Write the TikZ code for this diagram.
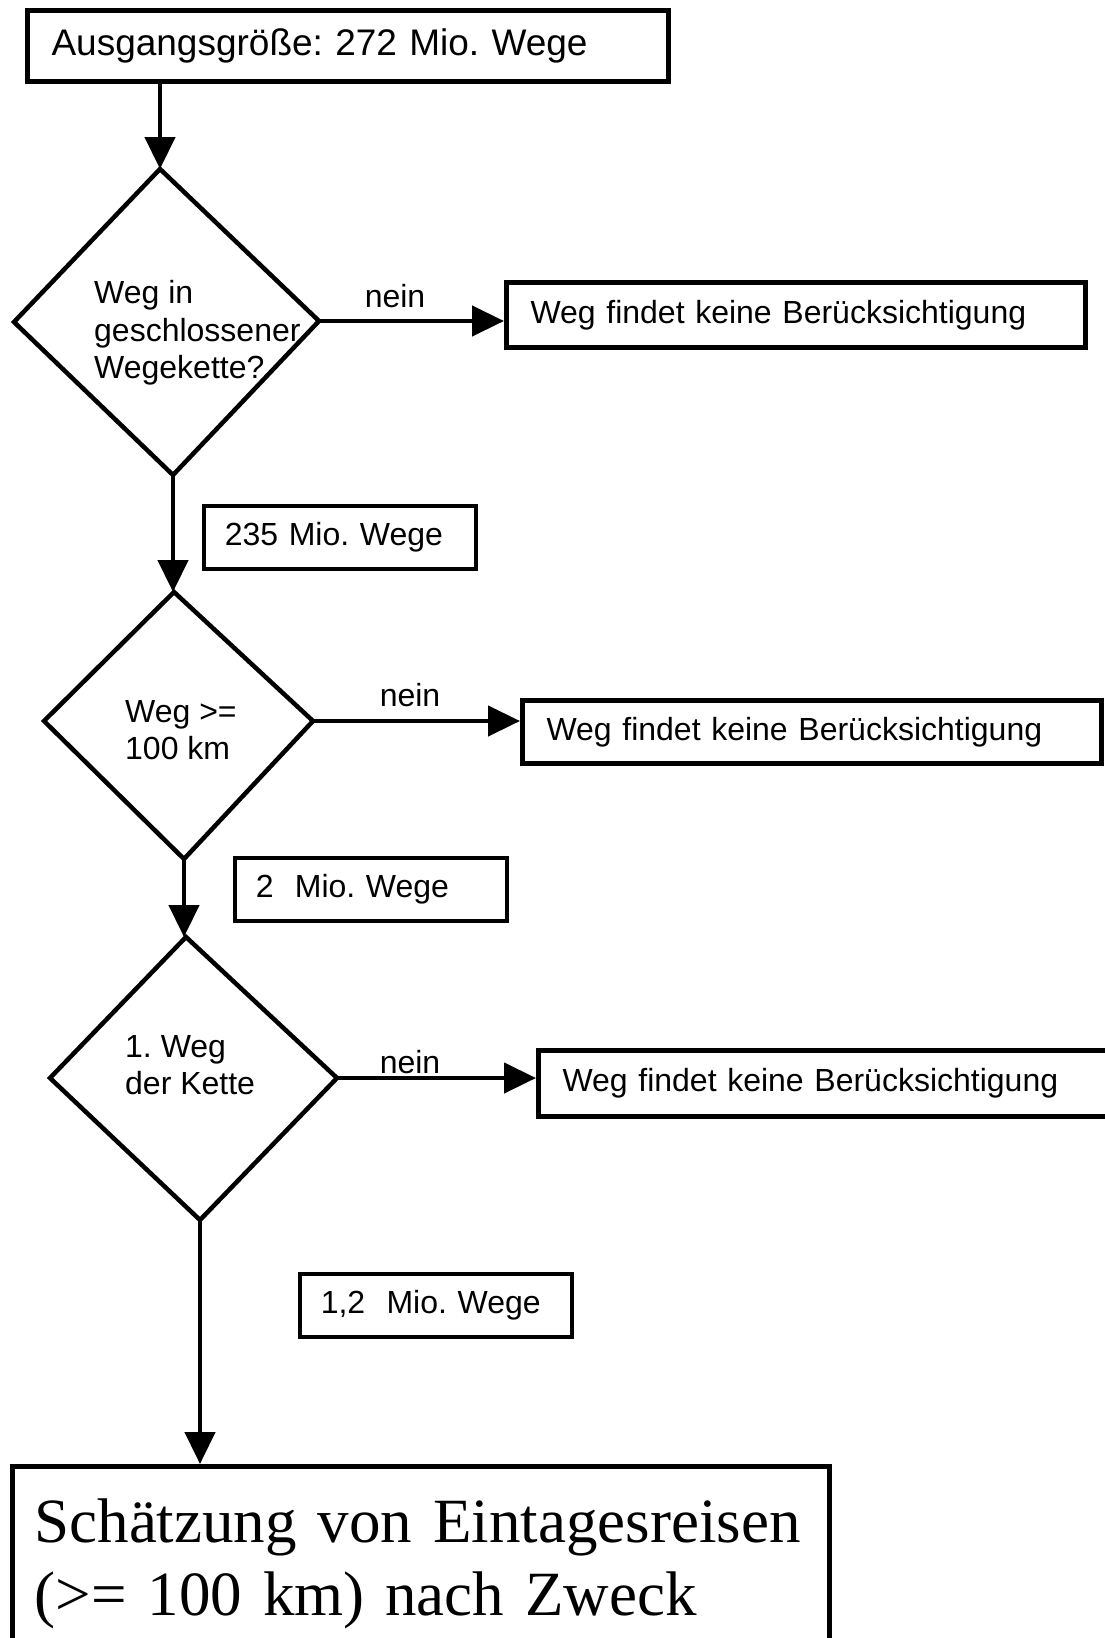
\documentclass[tikz,border=0pt]{standalone}
\usepackage{fontspec}
\setmainfont{Liberation Sans}
\newfontfamily\seriffont{Liberation Serif}
\usetikzlibrary{arrows.meta}
\frenchspacing

\tikzset{
  box/.style={draw,line width=5pt,anchor=north west,align=left,inner xsep=24pt,inner ysep=0pt},
  countbox/.style={draw,line width=3.5pt,anchor=north west,align=left,inner xsep=21pt,inner ysep=0pt,text width=230pt,minimum height=63pt},
  question/.style={anchor=west,align=left,inner sep=0pt},
  flow/.style={line width=4.5pt,-{Triangle[length=32pt,width=30pt]}}
}

\begin{document}
\begin{tikzpicture}[x=1pt,y=-1pt,font=\fontsize{32}{37.6}\selectfont]
  \useasboundingbox (0,0) rectangle (1105,1638);
  \clip (0,0) rectangle (1105,1638);
  \coordinate (T1) at (160,169); \coordinate (R1) at (319,321); \coordinate (B1) at (173,475); \coordinate (L1) at (14,322);
  \coordinate (T2) at (174,592); \coordinate (R2) at (313,721); \coordinate (B2) at (184,859); \coordinate (L2) at (44,721);
  \coordinate (T3) at (186,937); \coordinate (R3) at (337,1078); \coordinate (B3) at (200,1220); \coordinate (L3) at (50,1078);
  \node[box,text width=593pt,minimum height=71pt,font=\fontsize{37}{44}\selectfont] (start) at (25,8) {Ausgangsgröße: 272 Mio. Wege};
  \node[box,text width=531pt,minimum height=65pt] (skip1) at (504,280) {Weg findet keine Berücksichtigung};
  \node[box,text width=531pt,minimum height=63pt] (skip2) at (520,698) {Weg findet keine Berücksichtigung};
  \node[box,text width=531pt,minimum height=66pt] (skip3) at (536,1048) {Weg findet keine Berücksichtigung};
  \node[countbox] (n1) at (202,504) {235 Mio. Wege};
  \node[countbox] (n2) at (233,856) {2\ \ Mio. Wege};
  \node[countbox] (n3) at (298,1272) {1,2\ \ Mio. Wege};
  \node[box,text width=773pt,inner xsep=22pt,minimum height=195pt,font=\seriffont\fontsize{63}{73}\selectfont] (result) at (10,1464) {\mbox{Schätzung von Eintagesreisen}\\\mbox{(>= 100 km) nach Zweck}};
  \foreach \i in {1,2,3}\draw[line width=4.5pt] (T\i)--(R\i)--(B\i)--(L\i)--cycle;
  \node[question] (q1) at (94,333) {Weg in\\geschlossener\\Wegekette?};
  \node[question] (q2) at (125,730) {Weg >=\\100 km};
  \node[question] (q3) at (125,1065) {1. Weg\\der Kette};
  \foreach \x/\y/\n in {395/296/1,410/695/2,410/1062/3}\node (no\n) at (\x,\y) {nein};
  \draw[flow] (T1 |- start.south) -- (T1);
  \draw[flow] (B1) -- (B1 |- T2);
  \draw[flow] (B2) -- (B2 |- T3);
  \draw[flow] (B3) -- (B3 |- result.north);
  \draw[flow] (R1) -- (R1 -| skip1.west);
  \draw[flow] (R2) -- (R2 -| skip2.west);
  \draw[flow] (R3) -- (R3 -| skip3.west);
\end{tikzpicture}
\end{document}
